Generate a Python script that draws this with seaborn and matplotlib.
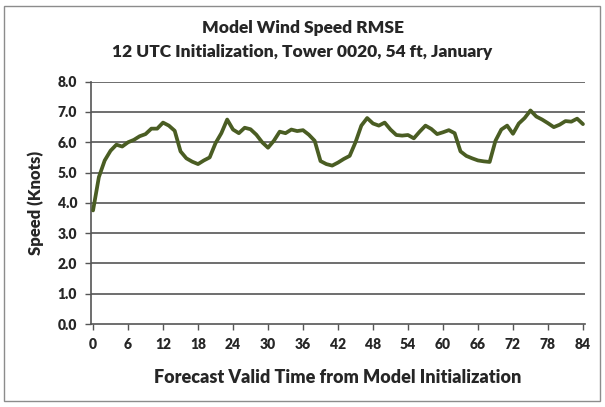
import numpy as np
import pandas as pd
import matplotlib
matplotlib.use("Agg")
import matplotlib.pyplot as plt
from matplotlib.patches import Rectangle
import seaborn as sns

# forecast hour and RMSE (knots)
hours = list(range(0, 85))
rmse = [
    3.75, 4.85, 5.40, 5.72, 5.92, 5.86, 6.00, 6.08, 6.20, 6.27,
    6.45, 6.45, 6.65, 6.55, 6.38, 5.70, 5.47, 5.36, 5.28, 5.40,
    5.50, 5.97, 6.30, 6.75, 6.42, 6.30, 6.48, 6.43, 6.25, 6.00,
    5.82, 6.05, 6.35, 6.30, 6.42, 6.37, 6.40, 6.25, 6.05, 5.38,
    5.28, 5.23, 5.33, 5.45, 5.55, 6.00, 6.55, 6.80, 6.62, 6.55,
    6.65, 6.42, 6.24, 6.22, 6.24, 6.13, 6.35, 6.55, 6.44, 6.27,
    6.33, 6.40, 6.30, 5.70, 5.55, 5.47, 5.40, 5.37, 5.35, 6.05,
    6.42, 6.55, 6.28, 6.62, 6.80, 7.05, 6.85, 6.75, 6.63, 6.50,
    6.58, 6.70, 6.68, 6.78, 6.60,
]
xticks = list(range(0, 85, 6))
yticks = [0.0, 1.0, 2.0, 3.0, 4.0, 5.0, 6.0, 7.0, 8.0]

df = pd.DataFrame({"hour": hours, "rmse": rmse})

sns.set_theme(style="white")
plt.rcParams["font.family"] = ["Lato", "DejaVu Sans"]
W = "heavy"

fig = plt.figure(figsize=(6.05, 4.07), dpi=100)
ax = fig.add_axes([91 / 605, 1 - 324 / 407, 494 / 605, 242.3 / 407])

for y in yticks[1:]:
    ax.axhline(y, color="#555555", lw=1.2, zorder=1)

sns.lineplot(data=df, x="hour", y="rmse", color="#4A5D23", lw=2.7, ax=ax, zorder=3)

ax.set_xlim(-0.35, 84.35)
ax.set_ylim(0, 8)
ax.set_xticks(xticks)
ax.set_xticklabels([str(t) for t in xticks], fontsize=10, fontweight=W)
ax.set_yticks(yticks)
ax.set_yticklabels([f"{t:.1f}" for t in yticks], fontsize=10, fontweight=W)
ax.tick_params(axis="both", which="both", direction="out", length=4, width=1,
               color="#555555", left=True, bottom=True, pad=6)

for side in ["top", "right"]:
    ax.spines[side].set_visible(False)
for side in ["left", "bottom"]:
    ax.spines[side].set_color("#555555")
    ax.spines[side].set_linewidth(1.2)

ax.set_xlabel("Forecast Valid Time from Model Initialization", fontsize=13,
              fontweight=W, labelpad=13)
ax.set_ylabel("Speed (Knots)", fontsize=12, fontweight=W, labelpad=10)

fig.text(0.5, 1 - 28 / 407, "Model Wind Speed RMSE", ha="center", va="center",
         fontsize=12.5, fontweight=W)
fig.text(0.5, 1 - 52 / 407, "12 UTC Initialization, Tower 0020, 54 ft, January",
         ha="center", va="center", fontsize=12.5, fontweight=W)

fig.patches.append(Rectangle((4 / 605, 6 / 407), 596 / 605, 395 / 407,
                             transform=fig.transFigure, fill=False,
                             edgecolor="#8c8c8c", lw=1.0))

fig.savefig("out.png", dpi=100)
plt.close(fig)
